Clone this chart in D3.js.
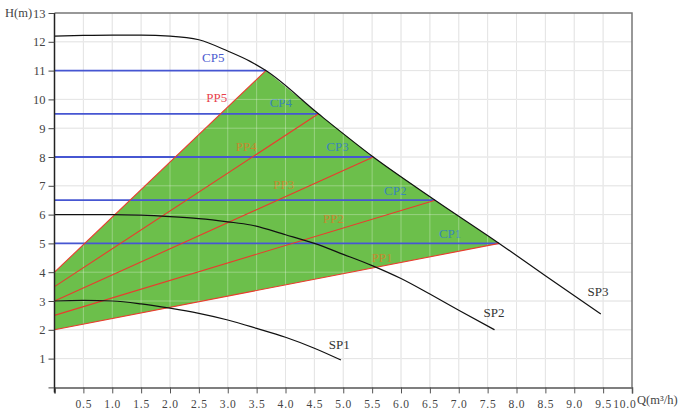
<!DOCTYPE html>
<html>
<head>
<meta charset="utf-8">
<script src="https://cdn.jsdelivr.net/npm/d3@7"></script>
<style>
  body { margin: 0; background: #fff; }
  text { font-family: "Liberation Serif", "DejaVu Serif", serif; }
</style>
</head>
<body>
<div id="canvas"></div>
<script>
"use strict";

// Ticks
const qTicks = [0.5, 1.0, 1.5, 2.0, 2.5, 3.0, 3.5, 4.0, 4.5, 5.0, 5.5, 6.0, 6.5, 7.0, 7.5, 8.0, 8.5, 9.0, 9.5, 10.0];
const hTicks = [1, 2, 3, 4, 5, 6, 7, 8, 9, 10, 11, 12, 13];

// Speed curves (Q, H)
const sp1 = [[0, 3.0], [0.5, 3.02], [1.0, 3.0], [1.5, 2.9], [2.0, 2.75], [2.5, 2.57], [3.0, 2.34],
  [3.5, 2.05], [4.0, 1.74], [4.5, 1.36], [4.96, 0.95]];
const sp2 = [[0, 6.0], [1.0, 6.0], [1.5, 5.98], [2.0, 5.93], [2.5, 5.86], [3.0, 5.75], [3.4, 5.64],
  [4.0, 5.3], [4.5, 5.0], [5.0, 4.62], [5.5, 4.23], [6.0, 3.78], [6.5, 3.24], [7.0, 2.68], [7.62, 2.0]];
const sp3 = [[0, 12.2], [0.5, 12.22], [1.0, 12.23], [1.5, 12.23], [2.0, 12.2], [2.5, 12.07], [3.0, 11.68],
  [3.38, 11.33], [3.66, 11.0], [4.57, 9.5], [5.52, 8.0], [6.59, 6.5], [7.7, 5.0], [8.5, 3.88], [9.46, 2.55]];

// Constant pressure (CP1..CP5) and proportional pressure (PP1..PP5)
const cpNames = ["CP1", "CP2", "CP3", "CP4", "CP5"];
const cpHead = [5.0, 6.5, 8.0, 9.5, 11.0];
const cpEndQ = [7.7, 6.59, 5.52, 4.57, 3.66];
const ppNames = ["PP1", "PP2", "PP3", "PP4", "PP5"];
const ppStartH = [2.0, 2.5, 3.0, 3.5, 4.0];

// Label spots (Q, H)
const cpLabelAt = [[6.85, 5.35], [5.9, 6.85], [4.9, 8.35], [3.92, 9.9], [2.75, 11.44]];
const ppLabelAt = [[5.67, 4.52], [4.83, 5.88], [3.97, 7.03], [3.32, 8.35], [2.81, 10.06]];
const spNames = ["SP1", "SP2", "SP3"];
const spLabelAt = [[4.93, 1.5], [7.61, 2.6], [9.41, 3.32]];

drawChart();

function drawChart() {
  const W = 697, H = 413;
  const svg = d3.select("#canvas").append("svg")
    .attr("width", W)
    .attr("height", H);

  const x = d3.scaleLinear().domain([0, 10]).range([54.5, 632]);
  const y = d3.scaleLinear().domain([0, 13]).range([387.4, 13]);

  const line = d3.line().x(d => x(d[0])).y(d => y(d[1]));
  const curve = d3.line().x(d => x(d[0])).y(d => y(d[1])).curve(d3.curveMonotoneX);

  // Grid under everything
  svg.append("g").selectAll("line").data(qTicks.slice(0, -1)).join("line")
    .attr("x1", d => x(d)).attr("x2", d => x(d))
    .attr("y1", y(0)).attr("y2", y(13))
    .attr("stroke", "#dadada");
  svg.append("g").selectAll("line").data(hTicks.slice(0, -1)).join("line")
    .attr("x1", x(0)).attr("x2", x(10))
    .attr("y1", d => y(d)).attr("y2", d => y(d))
    .attr("stroke", "#dadada");

  // Working area: PP5 line, SP3 down to CP1, back along PP1
  const top = sp3.filter(d => d[0] >= cpEndQ[4] && d[0] <= cpEndQ[0]);
  const area = [[0, ppStartH[0]], [0, ppStartH[4]]].concat(top);
  svg.append("path")
    .attr("d", line(area) + "Z")
    .attr("fill", "#6cbf4b");

  // Labels inside the green area
  svg.append("g").selectAll("text").data(cpNames).join("text")
    .attr("x", (d, i) => x(cpLabelAt[i][0]))
    .attr("y", (d, i) => y(cpLabelAt[i][1]))
    .attr("text-anchor", "middle").attr("dominant-baseline", "central")
    .attr("font-size", 13)
    .attr("fill", (d, i) => i === 4 ? "#4a5bd0" : "#3a86b8")
    .text(d => d);
  svg.append("g").selectAll("text").data(ppNames).join("text")
    .attr("x", (d, i) => x(ppLabelAt[i][0]))
    .attr("y", (d, i) => y(ppLabelAt[i][1]))
    .attr("text-anchor", "middle").attr("dominant-baseline", "central")
    .attr("font-size", 13)
    .attr("fill", (d, i) => i === 4 ? "#e8404a" : "#c48a2e")
    .text(d => d);

  // Light grid over the green
  svg.append("g").selectAll("line").data(qTicks.slice(0, -1)).join("line")
    .attr("x1", d => x(d)).attr("x2", d => x(d))
    .attr("y1", y(0)).attr("y2", y(13))
    .attr("stroke", "#ffffff").attr("stroke-opacity", 0.3);
  svg.append("g").selectAll("line").data(hTicks.slice(0, -1)).join("line")
    .attr("x1", x(0)).attr("x2", x(10))
    .attr("y1", d => y(d)).attr("y2", d => y(d))
    .attr("stroke", "#ffffff").attr("stroke-opacity", 0.3);

  // CP lines (blue, horizontal)
  svg.append("g").selectAll("path").data(cpHead).join("path")
    .attr("d", (d, i) => line([[0, d], [cpEndQ[i], d]]))
    .attr("stroke", "#4656d2").attr("stroke-width", 1.8).attr("fill", "none");

  // PP lines (red)
  svg.append("g").selectAll("path").data(ppStartH).join("path")
    .attr("d", (d, i) => line([[0, d], [cpEndQ[i], cpHead[i]]]))
    .attr("stroke", "#ea3b2e").attr("stroke-width", 1.1).attr("fill", "none");

  // Speed curves
  svg.append("g").selectAll("path").data([sp1, sp2, sp3]).join("path")
    .attr("d", d => curve(d))
    .attr("stroke", "#111").attr("stroke-width", 1.2).attr("fill", "none");

  svg.append("g").selectAll("text").data(spNames).join("text")
    .attr("x", (d, i) => x(spLabelAt[i][0]))
    .attr("y", (d, i) => y(spLabelAt[i][1]))
    .attr("text-anchor", "middle").attr("dominant-baseline", "central")
    .attr("font-size", 13).attr("fill", "#333")
    .text(d => d);

  // Frame (top and right)
  svg.append("path")
    .attr("d", "M" + x(0) + "," + y(13) + "H" + x(10) + "V" + y(0))
    .attr("stroke", "#777").attr("stroke-width", 1.5).attr("fill", "none");

  // Axes
  const xAxis = svg.append("g")
    .attr("transform", "translate(0," + y(0) + ")")
    .call(d3.axisBottom(x).tickValues([0].concat(qTicks)).tickSize(6).tickPadding(6)
      .tickFormat(d => d === 0 ? "" : d3.format(".1f")(d)));
  xAxis.select(".domain").attr("stroke", "#555").attr("stroke-width", 1.5);
  xAxis.selectAll(".tick line").attr("stroke", "#555");
  xAxis.selectAll("text").attr("font-size", 11.5).attr("fill", "#444")
    .attr("letter-spacing", 0.8)
    .attr("font-family", "Liberation Serif");
  xAxis.selectAll(".tick").filter(d => d === 10).select("text")
    .attr("text-anchor", "end").attr("dx", 4);

  const yAxis = svg.append("g")
    .attr("transform", "translate(" + x(0) + ",0)")
    .call(d3.axisLeft(y).tickValues([0].concat(hTicks)).tickSize(6).tickPadding(3)
      .tickFormat(d => d === 0 ? "" : d));
  yAxis.select(".domain").attr("stroke", "#222").attr("stroke-width", 1.5)
    .attr("d", "M0," + y(13) + "V" + (y(0) + 5));
  yAxis.selectAll(".tick line").attr("stroke", "#444");
  yAxis.selectAll("text").attr("font-size", 12.5).attr("fill", "#444")
    .attr("font-family", "Liberation Serif");

  // Axis titles
  svg.append("text")
    .attr("x", 5).attr("y", y(13))
    .attr("dominant-baseline", "central")
    .attr("font-size", 12.5).attr("fill", "#444")
    .text("H(m)");
  svg.append("text")
    .attr("x", 637).attr("y", y(0) + 13)
    .attr("dominant-baseline", "central")
    .attr("font-size", 12.5).attr("fill", "#444")
    .text("Q(m³/h)");
}
</script>
</body>
</html>
